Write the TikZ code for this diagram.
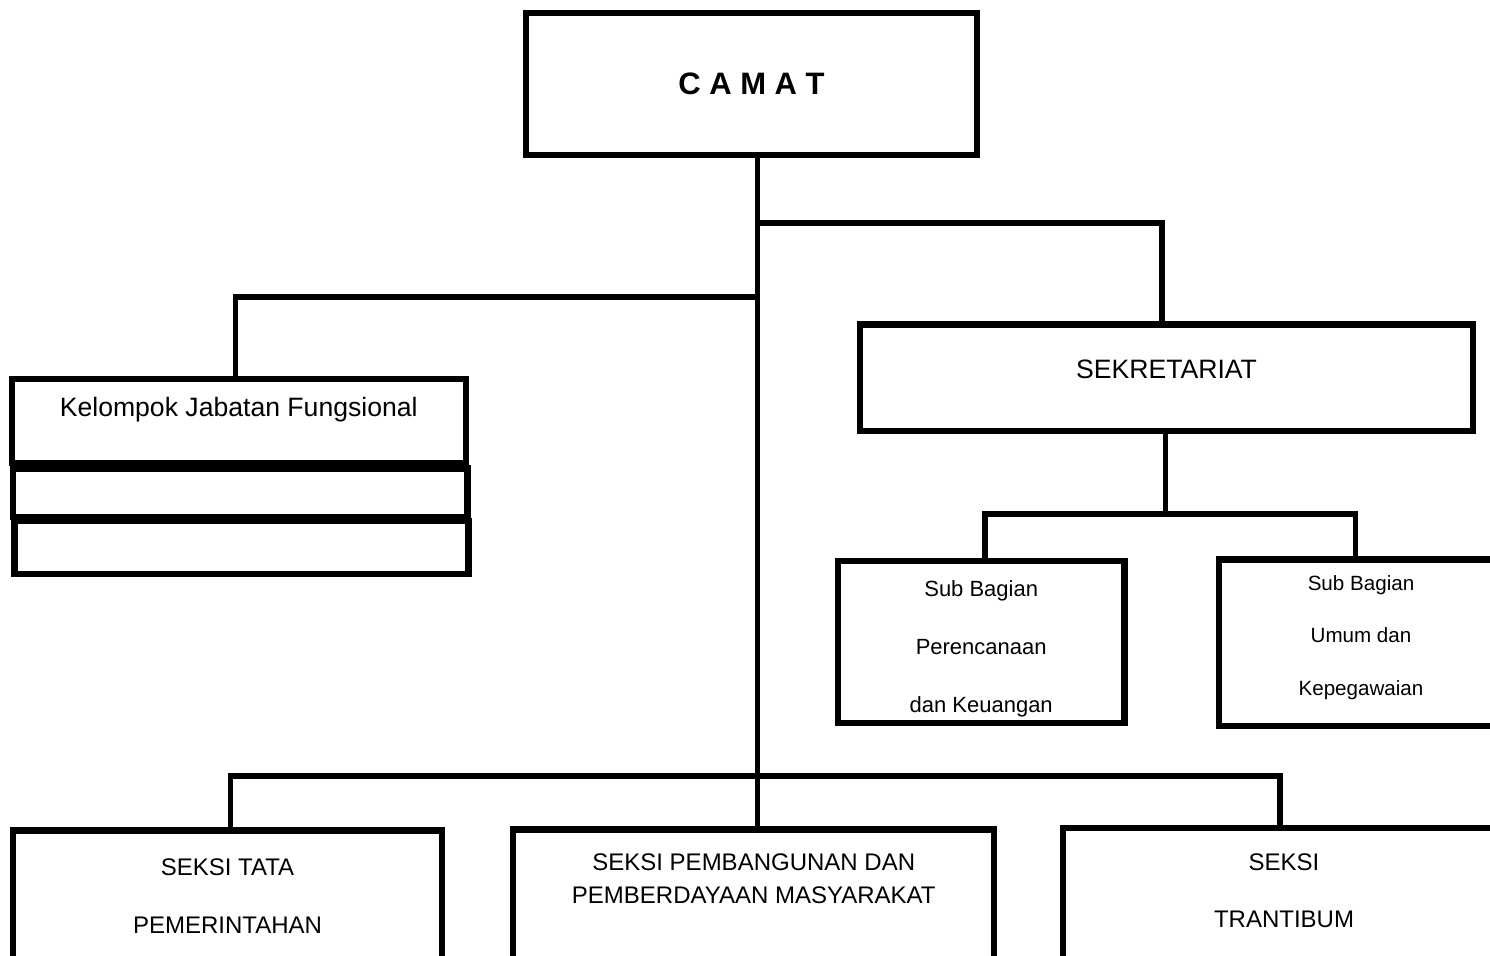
\documentclass[tikz,border=0pt]{standalone}
\usepackage{fontspec}
\setmainfont{Liberation Sans}
\usetikzlibrary{positioning,calc}
\newcommand{\bigfont}{\fontsize{13.3}{29}\selectfont}
\newcommand{\midfont}{\fontsize{12}{28.6}\selectfont}
\newcommand{\subfont}{\fontsize{11}{29.2}\selectfont}
\newcommand{\smallfont}{\fontsize{10.3}{26.3}\selectfont}
\tikzset{
    box/.style = {draw, rectangle, line width=3.1pt, inner sep=0pt, fill=white},
    conn/.style = {draw, line width=2.9pt},
    every label/.style = {align=center, inner sep=0pt, font=\bigfont}
}

\begin{document}
\begin{tikzpicture}[x=0.5pt, y=-0.5pt]
    \useasboundingbox (0,0) rectangle (1490,955);
    \fill[white] (0,0) rectangle (1490,955);
    \clip (0,0) rectangle (1490,955);
    % junctions on the connectors
    \coordinate (jsek) at (757.5,223);
    \coordinate (jkjf) at (757.5,296.8);
    \coordinate (trunk) at (757.5,776);
    \coordinate (jsub) at (1165.5,513.7);
    % boxes
    \node [box, minimum width=225.5pt, minimum height=71pt, font=\bfseries\fontsize{15.5}{19}\selectfont] (camat) at (751.5,84) {C A M A T};
    \node [box, minimum width=227pt, minimum height=42.25pt, label={[yshift=5.45pt]center:Kelompok Jabatan Fungsional}] (kjf) at (238.75,421) {};
    \node [box, minimum width=227.25pt, minimum height=24.25pt] (kjfa) at (240.25,492.75) {};
    \node [box, minimum width=227pt, minimum height=26.5pt] (kjfb) at (241.5,547.5) {};
    \node [box, minimum width=306.5pt, minimum height=53.25pt, label={[yshift=4.4pt]center:SEKRETARIAT}] (sekre) at (1166.5,377.75) {};
    \node [box, minimum width=143.3pt, minimum height=80.8pt, label={[yshift=-3.4pt, font=\subfont]center:Sub Bagian\\Perencanaan\\dan Keuangan}] (sbpk) at (981.2,642) {};
    \node [box, minimum width=150.6pt, minimum height=83.25pt, label={[xshift=-4.2pt, yshift=2.7pt, font=\smallfont]center:Sub Bagian\\Umum dan\\Kepegawaian}] (sbuk) at (1369.4,642.75) {};
    \node [box, minimum width=214.5pt, minimum height=74.75pt, label={[yshift=4.6pt, font=\midfont]center:SEKSI TATA\\PEMERINTAHAN}] (tata) at (227.5,905.25) {};
    \node [box, minimum width=240.45pt, minimum height=75.25pt, label={[yshift=13.1pt, font=\fontsize{12}{16.5}\selectfont]center:SEKSI PEMBANGUNAN DAN\\PEMBERDAYAAN MASYARAKAT}] (pmb) at (753.75,904.75) {};
    \node [box, minimum width=221pt, minimum height=76pt, label={[yshift=6.6pt, font=\fontsize{12}{28.75}\selectfont]center:SEKSI\\TRANTIBUM}] (trantib) at (1284,904) {};
    % connectors
    \draw [conn] (camat.south -| trunk) -- (trunk |- pmb.north);
    \draw [conn] (jsek) -| ([xshift=-2.35pt]sekre.north);
    \draw [conn] (jkjf) -| ([xshift=-1.6pt]kjf.north);
    \draw [conn] (sekre.south -| jsub) -- (jsub);
    \draw [conn] ([xshift=2pt]sbpk.north) |- (jsub) -| ([xshift=-6.95pt]sbuk.north);
    \draw [conn] ([xshift=1.5pt]tata.north) |- (trunk) -| ([xshift=-2pt]trantib.north);
\end{tikzpicture}
\end{document}
